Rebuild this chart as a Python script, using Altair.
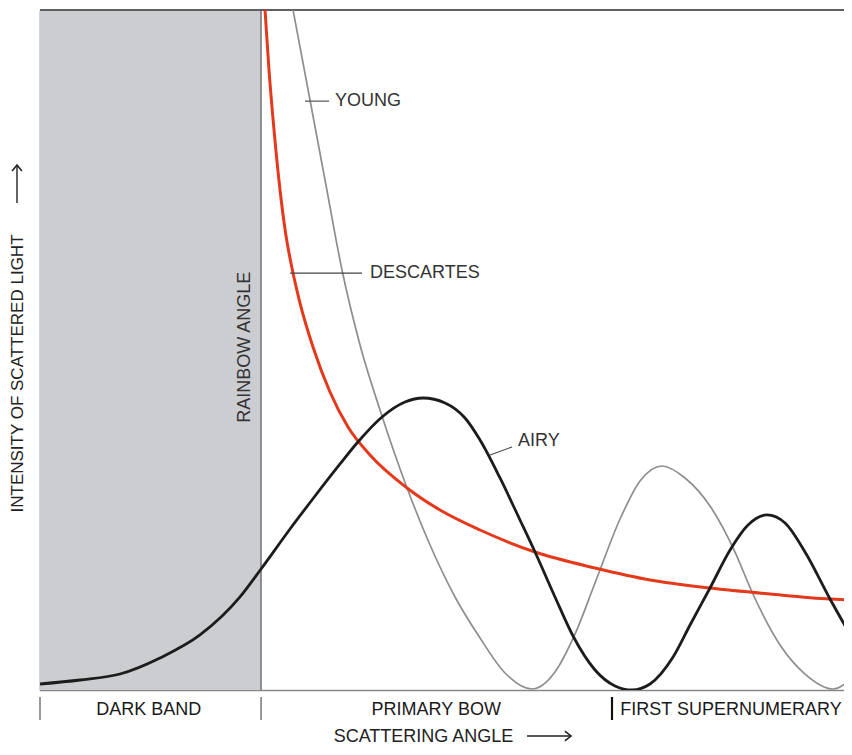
import altair as alt
import pandas as pd

# ---- data (x = scattering angle 0-100, y = intensity 0-100) ----
descartes_x = [27.71, 28.20, 28.82, 29.56, 30.30, 31.03, 32.02, 33.62, 35.71, 37.93,
               40.64, 45.20, 49.26, 54.19, 60.96, 68.35, 75.12, 82.51, 89.90, 97.29, 100.0]
descartes_y = [100.0, 91.18, 82.35, 73.53, 66.76, 62.06, 56.91, 50.44, 43.82, 38.68,
               34.56, 29.71, 26.47, 23.53, 20.29, 17.94, 16.18, 15.00, 14.12, 13.38, 13.24]

young_x = [31.16, 33.25, 35.10, 37.19, 39.41, 41.87, 45.20, 48.03, 51.11, 54.19, 57.27,
           60.59, 63.42, 65.89, 68.35, 71.43, 73.89, 76.60, 79.43, 82.51, 85.59, 87.68,
           91.13, 94.21, 97.66, 100.0]
young_y = [100.0, 86.76, 75.00, 61.76, 50.74, 41.18, 29.71, 21.32, 13.68, 7.65, 2.50,
           0.15, 2.65, 8.24, 15.74, 25.15, 30.74, 32.94, 31.18, 27.06, 20.29, 14.41,
           6.62, 2.35, 0.15, 1.76]

airy_x = [0.0, 4.93, 9.85, 14.78, 19.70, 24.63, 27.22, 30.79, 33.87, 36.95, 39.04,
          42.12, 44.95, 47.17, 49.88, 52.34, 54.19, 56.65, 59.11, 60.96, 63.42, 65.64,
          68.35, 70.81, 72.91, 75.12, 77.96, 80.05, 82.51, 84.98, 87.19, 89.53, 91.75,
          94.21, 97.29, 100.0]
airy_y = [0.88, 1.47, 2.35, 4.71, 8.09, 13.68, 17.79, 23.68, 28.53, 33.24, 36.32,
          40.15, 42.35, 42.94, 42.21, 40.00, 36.76, 31.18, 25.00, 20.29, 13.68, 7.94,
          2.94, 0.59, 0.00, 0.88, 4.85, 9.56, 15.00, 20.59, 24.26, 25.74, 24.56,
          20.29, 13.38, 7.65]

rainbow_angle = 27.22
region_names = ["DARK BAND", "PRIMARY BOW", "FIRST SUPERNUMERARY"]
region_label_x = [13.4, 48.8, 85.1]
region_bounds = [0.0, 27.22, 70.44]
region_tick_colors = ["#777777", "#777777", "#111111"]
region_tick_widths = [1.5, 1.5, 2.2]

curve_names = ["YOUNG", "DESCARTES", "AIRY"]
curve_label_x = [36.33, 40.64, 58.87]
curve_label_y = [86.6, 61.3, 36.6]
leader_x = [32.64, 30.79, 55.42]
leader_x2 = [35.59, 39.66, 58.13]
leader_y = [86.6, 61.3, 34.56]
leader_y2 = [86.6, 61.3, 35.74]

FONT = "Liberation Sans"
X_VISIBLE = 99.01  # the right edge of the picture cuts the plot off here

xscale = alt.Scale(domain=[0, X_VISIBLE], nice=False, zero=False)
yscale = alt.Scale(domain=[0, 100], nice=False, zero=False)
xaxis = alt.Axis(title="SCATTERING ANGLE", domain=True, domainColor="#888888", domainWidth=1.5,
                 ticks=False, labels=False, grid=False, titleFont=FONT, titleFontSize=18,
                 titleFontWeight="normal", titleColor="#222222", titleX=383, titleY=46,
                 titleAlign="center", titleBaseline="middle")
yaxis = alt.Axis(title="INTENSITY OF SCATTERED LIGHT", domain=True, domainColor="#555555",
                 domainWidth=1.5, ticks=False, labels=False, grid=False, titleFont=FONT,
                 titleFontSize=17, titleFontWeight="normal", titleColor="#222222",
                 titleAngle=270, titleX=-23, titleY=363, titleAlign="center",
                 titleBaseline="middle")


def X(f):
    return alt.X(f, type="quantitative", scale=xscale, axis=xaxis)


def Y(f):
    return alt.Y(f, type="quantitative", scale=yscale, axis=yaxis)


shade_df = pd.DataFrame({"x": [0.0], "x2": [rainbow_angle], "y": [0.0], "y2": [100.0]})
shade = alt.Chart(shade_df).mark_rect(color="#cccdd1").encode(
    x=X("x"), x2="x2", y=Y("y"), y2="y2")

frame_df = pd.DataFrame({"x": [0.0, rainbow_angle], "x2": [X_VISIBLE, rainbow_angle],
                         "y": [100.0, 0.0], "y2": [100.0, 100.0],
                         "w": [1.8, 1.3]})
frame = alt.Chart(frame_df).mark_rule(color="#606060").encode(
    x=X("x"), x2="x2", y=Y("y"), y2="y2",
    strokeWidth=alt.StrokeWidth("w:Q", scale=None))


def curve(xs, ys, color, width):
    df = pd.DataFrame({"x": xs, "y": ys})
    return alt.Chart(df).mark_line(color=color, strokeWidth=width,
                                   interpolate="monotone", clip=True).encode(
        x=X("x"), y=Y("y"))


young = curve(young_x, young_y, "#8e8e8e", 1.7)
descartes = curve(descartes_x, descartes_y, "#e5391c", 3.0)
airy = curve(airy_x, airy_y, "#1c1c1c", 2.8)

leader_df = pd.DataFrame({"x": leader_x, "x2": leader_x2, "y": leader_y, "y2": leader_y2})
leaders = alt.Chart(leader_df).mark_rule(color="#444444", strokeWidth=1.1).encode(
    x=X("x"), x2="x2", y=Y("y"), y2="y2")

label_df = pd.DataFrame({"name": curve_names, "x": curve_label_x, "y": curve_label_y})
labels = alt.Chart(label_df).mark_text(font=FONT, fontSize=18, color="#333333",
                                       align="left", baseline="middle").encode(
    x=X("x"), y=Y("y"), text="name:N")

rainbow_df = pd.DataFrame({"t": ["RAINBOW ANGLE"], "x": [25.25], "y": [50.4]})
rainbow = alt.Chart(rainbow_df).mark_text(font=FONT, fontSize=18, color="#333333",
                                          angle=270, align="center",
                                          baseline="middle").encode(
    x=X("x"), y=Y("y"), text="t:N")

tick_df = pd.DataFrame({"x": region_bounds, "c": region_tick_colors, "w": region_tick_widths,
                        "y": [-1.03] * 3, "y2": [-4.41] * 3})
ticks = alt.Chart(tick_df).mark_rule().encode(
    x=X("x"), y=Y("y"), y2="y2",
    color=alt.Color("c:N", scale=None),
    strokeWidth=alt.StrokeWidth("w:Q", scale=None))

region_df = pd.DataFrame({"name": region_names, "x": region_label_x, "y": [-2.94] * 3})
regions = alt.Chart(region_df).mark_text(font=FONT, fontSize=18, color="#1a1a1a",
                                         align="center", baseline="middle").encode(
    x=X("x"), y=Y("y"), text="name:N")

# arrows after the two axis titles (shaft + open arrowhead)
x_shaft = alt.Chart(pd.DataFrame({"a": ["x"]})).mark_rule(color="#222222", strokeWidth=1.4).encode(
    x=alt.value(487), x2=alt.value(531), y=alt.value(726))
x_head = alt.Chart(pd.DataFrame({"a": ["x"]})).mark_point(
    shape="M-1,-0.8L0,0L-1,0.8", size=150, filled=False, color="#222222",
    strokeWidth=1.6, opacity=1).encode(x=alt.value(531), y=alt.value(726))
y_shaft = alt.Chart(pd.DataFrame({"a": ["y"]})).mark_rule(color="#222222", strokeWidth=1.4).encode(
    x=alt.value(-23), y=alt.value(155), y2=alt.value(193))
y_head = alt.Chart(pd.DataFrame({"a": ["y"]})).mark_point(
    shape="M-0.8,1L0,0L0.8,1", size=150, filled=False, color="#222222",
    strokeWidth=1.6, opacity=1).encode(x=alt.value(-23), y=alt.value(155))

chart = alt.layer(shade, frame, young, descartes, airy, leaders, labels, rainbow,
                  ticks, regions, x_shaft, x_head, y_shaft, y_head).properties(
    width=804, height=680,
    autosize=alt.AutoSizeParams(type="none"),
    padding={"left": 32, "top": 2, "right": 0, "bottom": 57},
    background="white",
).configure_view(stroke=None)

chart.save("out.html", embed_options={"renderer": "svg", "actions": False})
